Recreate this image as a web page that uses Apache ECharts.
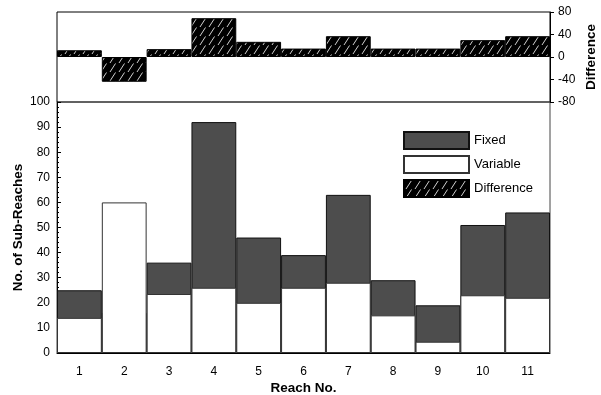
<!DOCTYPE html>
<html>
<head>
<meta charset="utf-8">
<script src="https://cdn.jsdelivr.net/npm/echarts@6/dist/echarts.min.js"></script>
<style>
  html, body { margin: 0; padding: 0; background: #fff; }
  #chart { width: 601px; height: 395px; }
</style>
</head>
<body>
<div id="chart"></div>
<script>
// Reach numbers along the x axis
const reaches = ['1', '2', '3', '4', '5', '6', '7', '8', '9', '10', '11'];
// Number of sub-reaches per reach, fixed vs variable segmentation
const fixedCounts = [25, 16, 36, 92, 46, 39, 63, 29, 19, 51, 56];
const variableCounts = [14, 60, 23.5, 26, 20, 26, 28, 15, 4.5, 23, 22];
// Difference panel values
const differences = [12, -44, 14, 69, 27, 15, 37, 15, 15, 30, 37];
// Difference axis ticks
const diffTicks = [-80, -40, 0, 40, 80];

// Black fill with light diagonal hatching
function hatchPattern() {
  const c = document.createElement('canvas');
  c.width = 9; c.height = 9;
  const g = c.getContext('2d');
  g.fillStyle = '#000';
  g.fillRect(0, 0, 9, 9);
  g.strokeStyle = '#d0d0d0';
  g.lineWidth = 1;
  g.beginPath();
  g.moveTo(2, 9);
  g.lineTo(7.5, 0.5);
  g.stroke();
  return c;
}
const hatch = { image: hatchPattern(), repeat: 'repeat' };

const font = 'Liberation Sans, Arial, sans-serif';
const chart = echarts.init(document.getElementById('chart'), null, { renderer: 'canvas' });

chart.setOption({
  animation: false,
  backgroundColor: '#fff',
  textStyle: { fontFamily: font, color: '#000' },
  grid: [
    { left: 57, right: 51, top: 12, height: 90, show: true, borderColor: '#000', borderWidth: 1,
      backgroundColor: '#fff', containLabel: false, outerBoundsMode: 'none' },
    { left: 57, right: 51, top: 102, height: 251, show: true, borderColor: '#444', borderWidth: 1,
      backgroundColor: 'transparent', containLabel: false, outerBoundsMode: 'none' }
  ],
  legend: {
    orient: 'vertical',
    left: 398,
    top: 126,
    icon: 'rect',
    itemWidth: 65,
    itemHeight: 17,
    itemGap: 5,
    textStyle: { fontFamily: font, fontSize: 13, color: '#000', padding: [0, 0, 0, 0] },
    data: ['Fixed', 'Variable', 'Difference']
  },
  xAxis: [
    {
      type: 'category', gridIndex: 0, data: reaches,
      axisLine: { show: false }, axisTick: { show: false }, axisLabel: { show: false }
    },
    {
      type: 'category', gridIndex: 1, data: reaches,
      axisLine: { lineStyle: { color: '#000', width: 1 } },
      axisTick: { show: true, inside: true, alignWithLabel: true, length: 3, lineStyle: { color: '#000' } },
      axisLabel: { fontFamily: font, fontSize: 12, color: '#000', margin: 13 },
      name: 'Reach No.',
      nameLocation: 'middle',
      nameGap: 28,
      nameMoveOverlap: false,
      nameTextStyle: { fontFamily: font, fontSize: 13.5, fontWeight: 'bold', color: '#000' }
    }
  ],
  yAxis: [
    {
      type: 'value', gridIndex: 0, min: -80, max: 80, interval: 40,
      position: 'right',
      axisLine: { show: true, lineStyle: { color: '#000' } },
      axisTick: { show: true, length: 4, lineStyle: { color: '#000' } },
      axisLabel: {
        fontFamily: font, fontSize: 12, color: '#000', margin: 8,
        formatter: v => diffTicks.includes(v) ? String(v) : ''
      },
      splitLine: { show: false },
      name: 'Difference',
      nameLocation: 'middle',
      nameRotate: 90,
      nameGap: 34,
      nameMoveOverlap: false,
      nameTextStyle: { fontFamily: font, fontSize: 13.5, fontWeight: 'bold', color: '#000' }
    },
    {
      type: 'value', gridIndex: 1, min: 0, max: 100, interval: 10,
      axisLine: { show: true, lineStyle: { color: '#000' } },
      axisTick: { show: true, inside: true, length: 4, lineStyle: { color: '#000' } },
      minorTick: { show: true, splitNumber: 5, length: 2, lineStyle: { color: '#000' } },
      axisLabel: { fontFamily: font, fontSize: 12, color: '#000', margin: 7 },
      splitLine: { show: false },
      name: 'No. of Sub-Reaches',
      nameLocation: 'middle',
      nameGap: 32,
      nameMoveOverlap: false,
      nameTextStyle: { fontFamily: font, fontSize: 13.5, fontWeight: 'bold', color: '#000' }
    }
  ],
  series: [
    {
      name: 'Difference', type: 'bar', xAxisIndex: 0, yAxisIndex: 0,
      data: differences, barWidth: '100%', barCategoryGap: 0,
      itemStyle: { color: hatch, borderColor: '#000', borderWidth: 1 }
    },
    {
      name: 'Fixed', type: 'bar', xAxisIndex: 1, yAxisIndex: 1,
      data: fixedCounts, barWidth: '100%', barGap: '-100%', z: 2,
      itemStyle: { color: '#4d4d4d', borderColor: '#111', borderWidth: 1 }
    },
    {
      name: 'Variable', type: 'bar', xAxisIndex: 1, yAxisIndex: 1,
      data: variableCounts, barWidth: '100%', barGap: '-100%', z: 3,
      itemStyle: { color: '#fff', borderColor: '#333', borderWidth: 1 }
    }
  ]
});
</script>
</body>
</html>
